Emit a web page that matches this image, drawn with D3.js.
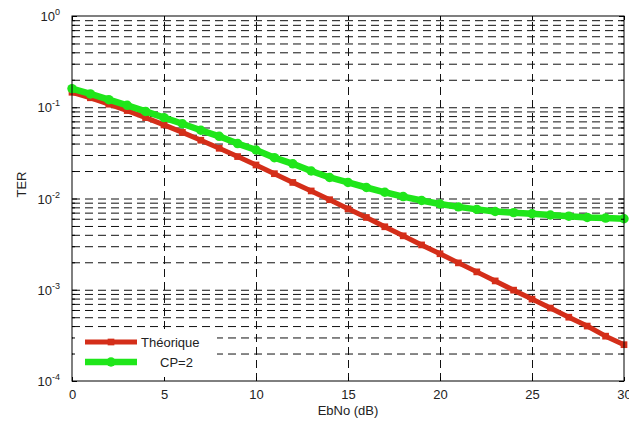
<!DOCTYPE html>
<html>
<head>
<meta charset="utf-8">
<script src="https://cdn.jsdelivr.net/npm/d3@7"></script>
<style>
  body { margin: 0; background: #fff; }
  text { font-family: "Liberation Sans", Arial, sans-serif; fill: #222; }
</style>
</head>
<body>
<div id="chart"></div>
<script>
// data
const ebno = d3.range(0, 31);
const theorique = [0.146, 0.127, 0.108, 0.092, 0.077, 0.064, 0.053, 0.0435, 0.0355, 0.0288,
                   0.0233, 0.0187, 0.0150, 0.0121, 0.0097, 0.0077, 0.0062, 0.0049, 0.0039, 0.0031,
                   0.00248, 0.00197, 0.00157, 0.00125, 0.00099, 0.00079, 0.00063, 0.00050, 0.00040, 0.00031,
                   0.00025];
const cp2 = [0.160, 0.140, 0.121, 0.105, 0.090, 0.077, 0.066, 0.056, 0.048, 0.040,
             0.034, 0.028, 0.024, 0.020, 0.017, 0.0150, 0.0132, 0.0117, 0.0105, 0.0095,
             0.0087, 0.0081, 0.0076, 0.0072, 0.0070, 0.0068, 0.0066, 0.0064, 0.0062, 0.0061,
             0.0060];
const xTicks = [0, 5, 10, 15, 20, 25, 30];
const yExponents = [0, -1, -2, -3, -4];
const seriesNames = ["Théorique", "CP=2"];

const margin = {top: 16, right: 5, bottom: 42, left: 72},
      width = 629 - margin.left - margin.right,
      height = 423 - margin.top - margin.bottom;

const x = d3.scaleLinear().domain([0, 30]).range([0, width]);
const y = d3.scaleLog().domain([1e-4, 1]).range([height, 0]);

const svg = d3.select("#chart").append("svg")
              .attr("width", 629)
              .attr("height", 423)
              .append("g")
              .attr("transform", "translate(" + margin.left + "," + margin.top + ")");

// minor values 1..9 per decade
const minorVals = [];
[-4, -3, -2, -1].forEach(e => {
  for (let k = 1; k <= 9; k++) minorVals.push(k * Math.pow(10, e));
});
const gridVals = minorVals.filter(v => v > 1e-4 * 1.001);

// horizontal dashed grid
svg.append("g")
   .attr("class", "grid")
   .call(d3.axisLeft(y).tickValues(gridVals).tickSize(-width).tickFormat(""))
   .call(g => g.select(".domain").remove())
   .call(g => g.selectAll("line").attr("stroke", "#111").attr("stroke-dasharray", "8,5"));

// vertical dashed grid
svg.append("g")
   .attr("class", "grid")
   .attr("transform", "translate(0," + height + ")")
   .call(d3.axisBottom(x).tickValues([5, 10, 15, 20, 25]).tickSize(-height).tickFormat(""))
   .call(g => g.select(".domain").remove())
   .call(g => g.selectAll("line").attr("stroke", "#111").attr("stroke-dasharray", "8,5"));

// legend background covers the grid
const lg = svg.append("g").attr("transform", "translate(1," + (height - 51) + ")");
lg.append("rect").attr("width", 144).attr("height", 50).attr("fill", "#fff");

// curves
const line = d3.line().x((d, i) => x(ebno[i])).y(d => y(d));
const series = [
  {name: seriesNames[0], values: theorique, color: "#d42e19", w: 5, sym: d3.symbolSquare, size: 45},
  {name: seriesNames[1], values: cp2, color: "#1fe61a", w: 6.5, sym: d3.symbolCircle, size: 70}
];

series.forEach(s => {
  svg.append("path")
     .datum(s.values)
     .attr("fill", "none")
     .attr("stroke", s.color)
     .attr("stroke-width", s.w)
     .attr("stroke-linejoin", "round")
     .attr("d", line);
  svg.selectAll(null)
     .data(s.values)
     .enter().append("path")
     .attr("d", d3.symbol().type(s.sym).size(s.size))
     .attr("transform", (d, i) => "translate(" + x(ebno[i]) + "," + y(d) + ")")
     .attr("fill", s.color);
});

// axis box
svg.append("rect")
   .attr("width", width).attr("height", height)
   .attr("fill", "none").attr("stroke", "#000").attr("stroke-width", 1);

// inner ticks: bottom and top
svg.append("g")
   .attr("transform", "translate(0," + height + ")")
   .call(d3.axisBottom(x).tickValues(xTicks).tickSizeInner(-4).tickSizeOuter(0).tickPadding(9))
   .call(g => g.select(".domain").remove())
   .call(g => g.selectAll("text").attr("font-size", 13).attr("fill", "#222"));
svg.append("g")
   .call(d3.axisTop(x).tickValues(xTicks).tickSizeInner(-4).tickSizeOuter(0).tickFormat(""))
   .call(g => g.select(".domain").remove());

// inner ticks: left and right (minor short, major long)
const allY = minorVals.concat([1]);
svg.append("g")
   .call(d3.axisLeft(y).tickValues(allY).tickSizeOuter(0).tickFormat(""))
   .call(g => g.select(".domain").remove())
   .call(g => g.selectAll(".tick line")
                .attr("x2", d => Math.abs(Math.log10(d) - Math.round(Math.log10(d))) < 1e-9 ? 5 : 3));
svg.append("g")
   .attr("transform", "translate(" + width + ",0)")
   .call(d3.axisRight(y).tickValues(allY).tickSizeOuter(0).tickFormat(""))
   .call(g => g.select(".domain").remove())
   .call(g => g.selectAll(".tick line")
                .attr("x2", d => Math.abs(Math.log10(d) - Math.round(Math.log10(d))) < 1e-9 ? -5 : -3));

// y labels 10^e
const ylab = svg.append("g").selectAll("text")
   .data(yExponents)
   .enter().append("text")
   .attr("x", -12)
   .attr("y", e => y(Math.pow(10, e)) + 5)
   .attr("text-anchor", "end")
   .attr("font-size", 13);
ylab.append("tspan").text("10");
ylab.append("tspan").attr("dy", -6).attr("font-size", 9).text(e => e);

// axis titles
svg.append("text")
   .attr("text-anchor", "middle")
   .attr("transform", "translate(" + (-46) + "," + (height / 2 - 14) + ")rotate(-90)")
   .attr("font-size", 13)
   .text("TER");
svg.append("text")
   .attr("text-anchor", "middle")
   .attr("x", width / 2)
   .attr("y", height + 34)
   .attr("font-size", 13)
   .text("EbNo (dB)");

// legend entries
series.forEach((s, i) => {
  const yy = 12 + i * 20;
  lg.append("line")
    .attr("x1", 12).attr("x2", 64).attr("y1", yy).attr("y2", yy)
    .attr("stroke", s.color).attr("stroke-width", s.w);
  lg.append("path")
    .attr("d", d3.symbol().type(s.sym).size(s.size))
    .attr("transform", "translate(38," + yy + ")")
    .attr("fill", s.color);
  lg.append("text")
    .attr("x", i === 0 ? 68 : 87)
    .attr("y", yy + 5)
    .attr("font-size", 13)
    .text(s.name);
});
</script>
</body>
</html>
